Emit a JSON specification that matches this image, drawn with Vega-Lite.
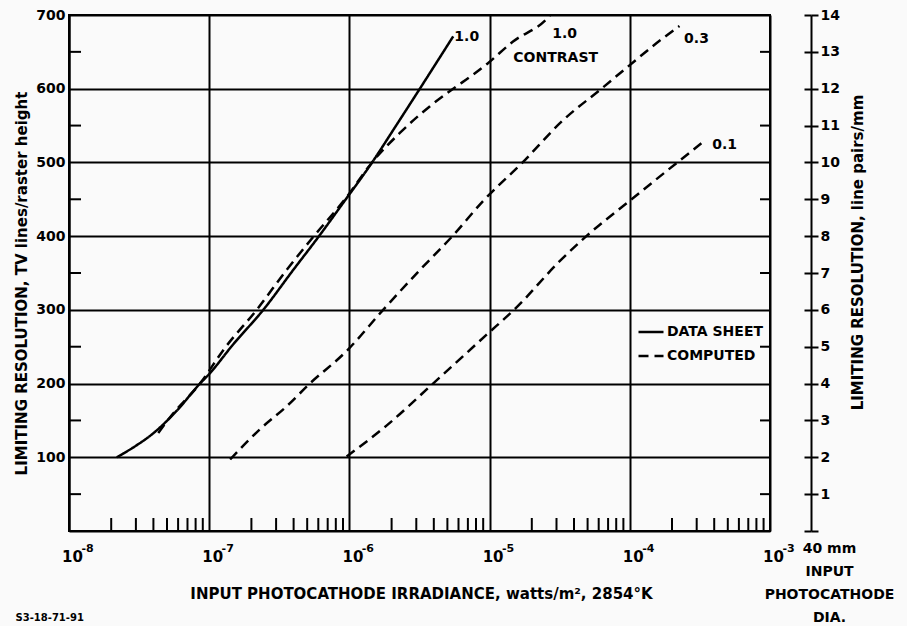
{
  "$schema": "https://vega.github.io/schema/vega-lite/v6.json",
  "width": 701,
  "height": 516,
  "autosize": {"type": "none"},
  "padding": {"left": 69, "top": 15, "right": 137, "bottom": 95},
  "background": "#fafafa",
  "config": {
    "font": "DejaVu Sans",
    "view": {"stroke": "black", "strokeWidth": 2},
    "axis": {
      "domainColor": "black", "domainWidth": 2,
      "gridColor": "black", "gridWidth": 2, "gridOpacity": 1,
      "tickColor": "black", "tickWidth": 2,
      "labelColor": "black", "titleColor": "black",
      "labelFont": "DejaVu Sans", "titleFont": "DejaVu Sans",
      "labelFontWeight": "bold", "titleFontWeight": "bold",
      "labelFlush": false, "labelOverlap": false
    },
    "legend": {"labelFont": "DejaVu Sans", "labelFontWeight": "bold", "labelColor": "black"}
  },
  "datasets": {
    "curves": [
      {"curve": "ds", "type": "DATA SHEET", "x": 2.19e-8, "y": 100},
      {"curve": "ds", "type": "DATA SHEET", "x": 3.02e-8, "y": 116},
      {"curve": "ds", "type": "DATA SHEET", "x": 3.78e-8, "y": 129},
      {"curve": "ds", "type": "DATA SHEET", "x": 5.86e-8, "y": 163},
      {"curve": "ds", "type": "DATA SHEET", "x": 8.59e-8, "y": 200},
      {"curve": "ds", "type": "DATA SHEET", "x": 1.0e-7, "y": 213},
      {"curve": "ds", "type": "DATA SHEET", "x": 1.48e-7, "y": 253},
      {"curve": "ds", "type": "DATA SHEET", "x": 2.43e-7, "y": 300},
      {"curve": "ds", "type": "DATA SHEET", "x": 3.97e-7, "y": 354},
      {"curve": "ds", "type": "DATA SHEET", "x": 6.07e-7, "y": 400},
      {"curve": "ds", "type": "DATA SHEET", "x": 9.02e-7, "y": 445},
      {"curve": "ds", "type": "DATA SHEET", "x": 1.44e-6, "y": 499},
      {"curve": "ds", "type": "DATA SHEET", "x": 2.17e-6, "y": 551},
      {"curve": "ds", "type": "DATA SHEET", "x": 3.18e-6, "y": 600},
      {"curve": "ds", "type": "DATA SHEET", "x": 4.2e-6, "y": 636},
      {"curve": "ds", "type": "DATA SHEET", "x": 5.5e-6, "y": 671},
      {"curve": "c10", "type": "COMPUTED", "x": 4.33e-8, "y": 133},
      {"curve": "c10", "type": "COMPUTED", "x": 5.4e-8, "y": 157},
      {"curve": "c10", "type": "COMPUTED", "x": 8.59e-8, "y": 200},
      {"curve": "c10", "type": "COMPUTED", "x": 1.29e-7, "y": 248},
      {"curve": "c10", "type": "COMPUTED", "x": 2.18e-7, "y": 300},
      {"curve": "c10", "type": "COMPUTED", "x": 3.56e-7, "y": 354},
      {"curve": "c10", "type": "COMPUTED", "x": 5.58e-7, "y": 400},
      {"curve": "c10", "type": "COMPUTED", "x": 9.29e-7, "y": 450},
      {"curve": "c10", "type": "COMPUTED", "x": 1.48e-6, "y": 502},
      {"curve": "c10", "type": "COMPUTED", "x": 2.29e-6, "y": 540},
      {"curve": "c10", "type": "COMPUTED", "x": 3.74e-6, "y": 576},
      {"curve": "c10", "type": "COMPUTED", "x": 5.5e-6, "y": 600},
      {"curve": "c10", "type": "COMPUTED", "x": 7.62e-6, "y": 619},
      {"curve": "c10", "type": "COMPUTED", "x": 9.64e-6, "y": 634},
      {"curve": "c10", "type": "COMPUTED", "x": 1.47e-5, "y": 664},
      {"curve": "c10", "type": "COMPUTED", "x": 2.54e-5, "y": 694},
      {"curve": "c10", "type": "COMPUTED", "x": 2.69e-5, "y": 699},
      {"curve": "c03", "type": "COMPUTED", "x": 1.41e-7, "y": 97},
      {"curve": "c03", "type": "COMPUTED", "x": 2.3e-7, "y": 138},
      {"curve": "c03", "type": "COMPUTED", "x": 3.56e-7, "y": 169},
      {"curve": "c03", "type": "COMPUTED", "x": 5.22e-7, "y": 200},
      {"curve": "c03", "type": "COMPUTED", "x": 9.53e-7, "y": 244},
      {"curve": "c03", "type": "COMPUTED", "x": 1.74e-6, "y": 300},
      {"curve": "c03", "type": "COMPUTED", "x": 3.18e-6, "y": 354},
      {"curve": "c03", "type": "COMPUTED", "x": 5.43e-6, "y": 400},
      {"curve": "c03", "type": "COMPUTED", "x": 9.12e-6, "y": 449},
      {"curve": "c03", "type": "COMPUTED", "x": 1.7e-5, "y": 499},
      {"curve": "c03", "type": "COMPUTED", "x": 3.33e-5, "y": 557},
      {"curve": "c03", "type": "COMPUTED", "x": 6.27e-5, "y": 600},
      {"curve": "c03", "type": "COMPUTED", "x": 9.7e-5, "y": 630},
      {"curve": "c03", "type": "COMPUTED", "x": 1.63e-4, "y": 665},
      {"curve": "c03", "type": "COMPUTED", "x": 2.26e-4, "y": 685},
      {"curve": "c01", "type": "COMPUTED", "x": 9.55e-7, "y": 101},
      {"curve": "c01", "type": "COMPUTED", "x": 1.84e-6, "y": 143},
      {"curve": "c01", "type": "COMPUTED", "x": 3.95e-6, "y": 200},
      {"curve": "c01", "type": "COMPUTED", "x": 9.48e-6, "y": 266},
      {"curve": "c01", "type": "COMPUTED", "x": 1.55e-5, "y": 303},
      {"curve": "c01", "type": "COMPUTED", "x": 3.16e-5, "y": 366},
      {"curve": "c01", "type": "COMPUTED", "x": 4.9e-5, "y": 400},
      {"curve": "c01", "type": "COMPUTED", "x": 9.7e-5, "y": 446},
      {"curve": "c01", "type": "COMPUTED", "x": 2.15e-4, "y": 499},
      {"curve": "c01", "type": "COMPUTED", "x": 3.24e-4, "y": 526}
    ],
    "notes": [
      {"x": 6.87e-6, "y": 670, "t": "1.0"},
      {"x": 3.43e-5, "y": 674, "t": "1.0"},
      {"x": 2.96e-5, "y": 642, "t": "CONTRAST"},
      {"x": 2.99e-4, "y": 668, "t": "0.3"},
      {"x": 4.74e-4, "y": 524, "t": "0.1"}
    ],
    "xminor": [
      {"px": 0.00000002}, {"px": 0.00000003}, {"px": 0.00000004}, {"px": 0.00000005}, {"px": 0.00000006}, {"px": 0.00000007}, {"px": 0.00000008}, {"px": 0.00000009},
      {"px": 0.0000002}, {"px": 0.0000003}, {"px": 0.0000004}, {"px": 0.0000005}, {"px": 0.0000006}, {"px": 0.0000007}, {"px": 0.0000008}, {"px": 0.0000009},
      {"px": 0.000002}, {"px": 0.000003}, {"px": 0.000004}, {"px": 0.000005}, {"px": 0.000006}, {"px": 0.000007}, {"px": 0.000008}, {"px": 0.000009},
      {"px": 0.00002}, {"px": 0.00003}, {"px": 0.00004}, {"px": 0.00005}, {"px": 0.00006}, {"px": 0.00007}, {"px": 0.00008}, {"px": 0.00009},
      {"px": 0.0002}, {"px": 0.0003}, {"px": 0.0004}, {"px": 0.0005}, {"px": 0.0006}, {"px": 0.0007}, {"px": 0.0008}, {"px": 0.0009}
    ],
    "yminor": [
      {"v": 50}, {"v": 150}, {"v": 250}, {"v": 350}, {"v": 450}, {"v": 550}, {"v": 650}
    ]
  },
  "layer": [
    {
      "data": {"name": "curves"},
      "mark": {"type": "line", "strokeWidth": 2.5, "interpolate": "monotone", "color": "black"},
      "encoding": {
        "x": {
          "field": "x", "type": "quantitative",
          "scale": {"type": "log", "domain": [1e-8, 1e-3], "nice": false},
          "axis": {
            "orient": "bottom", "values": [1e-8, 1e-7, 1e-6, 1e-5, 1e-4, 1e-3],
            "labelExpr": "'10'", "labelFontSize": 15, "labelPadding": 18, "labelOffset": 3,
            "ticks": false, "tickSize": 0, "grid": true, "domain": true,
            "title": "INPUT PHOTOCATHODE IRRADIANCE, watts/m², 2854°K",
            "titleFontSize": 15, "titleX": 352, "titleY": 67, "titleBaseline": "alphabetic", "titleAlign": "center"
          }
        },
        "y": {
          "field": "y", "type": "quantitative",
          "scale": {"domain": [0, 700], "nice": false, "zero": false},
          "axis": {
            "orient": "left", "values": [100, 200, 300, 400, 500, 600, 700],
            "labelFontSize": 14, "labelPadding": 4, "ticks": false, "tickSize": 0,
            "grid": true, "domain": true,
            "title": "LIMITING RESOLUTION, TV lines/raster height",
            "titleFontSize": 15, "titleAngle": 270, "titleX": -48, "titleY": 268,
            "titleAlign": "center", "titleBaseline": "middle"
          }
        },
        "detail": {"field": "curve"},
        "strokeDash": {
          "field": "type", "type": "nominal",
          "scale": {"domain": ["DATA SHEET", "COMPUTED"], "range": [[1, 0], [10, 6]]},
          "legend": {
            "title": null, "orient": "none", "legendX": 568, "legendY": 303,
            "symbolType": "stroke", "symbolSize": 625, "symbolStrokeWidth": 2.5,
            "symbolStrokeColor": "black", "labelFontSize": 14, "labelOffset": 2,
            "rowPadding": 3
          }
        }
      }
    },
    {
      "data": {"name": "notes"},
      "mark": {"type": "text", "font": "DejaVu Sans", "fontWeight": "bold", "fontSize": 14, "align": "center", "baseline": "middle", "color": "black"},
      "encoding": {
        "x": {"field": "x", "type": "quantitative", "scale": {"type": "log", "domain": [1e-8, 1e-3], "nice": false}, "axis": null},
        "y": {"field": "y", "type": "quantitative", "scale": {"domain": [0, 700], "nice": false, "zero": false}, "axis": null},
        "text": {"field": "t"}
      }
    },
    {
      "data": {"name": "xminor"},
      "transform": [{"filter": "datum.px < 1e-6"}],
      "mark": {"type": "rule", "strokeWidth": 2, "color": "black"},
      "encoding": {
        "x": {"field": "px", "type": "quantitative", "scale": {"type": "log", "domain": [1e-8, 1e-3], "nice": false}, "axis": null},
        "y": {"datum": 0, "type": "quantitative", "scale": {"domain": [0, 700], "nice": false, "zero": false}, "axis": null},
        "y2": {"datum": 17.6}
      }
    },
    {
      "data": {"name": "xminor"},
      "transform": [{"filter": "datum.px > 1e-6"}],
      "mark": {"type": "tick", "orient": "vertical", "size": 26, "thickness": 2, "color": "black", "opacity": 1, "clip": true},
      "encoding": {
        "x": {"field": "px", "type": "quantitative", "scale": {"type": "log", "domain": [1e-8, 1e-3], "nice": false}, "axis": null},
        "y": {"datum": 0, "type": "quantitative", "scale": {"domain": [0, 700], "nice": false, "zero": false}, "axis": null}
      }
    },
    {
      "data": {"name": "yminor"},
      "mark": {"type": "tick", "orient": "horizontal", "size": 24, "thickness": 2, "color": "black", "opacity": 1, "clip": true},
      "encoding": {
        "x": {"datum": 1e-8, "type": "quantitative", "scale": {"type": "log", "domain": [1e-8, 1e-3], "nice": false}, "axis": null},
        "y": {"field": "v", "type": "quantitative", "scale": {"domain": [0, 700], "nice": false, "zero": false}, "axis": null}
      }
    },
    {
      "data": {"name": "yminor"},
      "mark": {"type": "tick", "orient": "horizontal", "size": 20, "thickness": 2, "color": "black", "opacity": 1, "clip": true},
      "encoding": {
        "x": {"datum": 1e-3, "type": "quantitative", "scale": {"type": "log", "domain": [1e-8, 1e-3], "nice": false}, "axis": null},
        "y": {"field": "v", "type": "quantitative", "scale": {"domain": [0, 700], "nice": false, "zero": false}, "axis": null}
      }
    },
    {
      "mark": {"type": "point", "opacity": 0},
      "encoding": {
        "x": {
          "datum": 1e-6, "type": "quantitative",
          "scale": {"type": "log", "domain": [1e-8, 1e-3], "nice": false},
          "axis": {
            "orient": "bottom", "values": [1e-8, 1e-7, 1e-6, 1e-5, 1e-4, 1e-3],
            "labelExpr": "'-' + (-round(log(datum.value) / LN10))",
            "labelFontSize": 11, "labelPadding": 11, "labelOffset": 18,
            "ticks": false, "tickSize": 0, "grid": false, "domain": false,
            "title": "S3-18-71-91", "titleFontSize": 10, "titleX": -54, "titleY": 86,
            "titleAlign": "left", "titleBaseline": "middle"
          }
        },
        "y": {
          "datum": 7, "type": "quantitative",
          "scale": {"domain": [0, 14], "nice": false, "zero": false},
          "axis": {
            "orient": "right", "offset": 41,
            "values": [0, 1, 2, 3, 4, 5, 6, 7, 8, 9, 10, 11, 12, 13, 14],
            "tickSize": 7, "domain": true, "grid": false,
            "labelFontSize": 14, "labelLineHeight": 23,
            "labelExpr": "datum.value == 0 ? ['40 mm', 'INPUT', 'PHOTOCATHODE', 'DIA.'] : datum.label",
            "labelAlign": {"condition": {"test": "datum.value == 0", "value": "center"}, "value": "left"},
            "labelBaseline": {"condition": {"test": "datum.value == 0", "value": "top"}, "value": "middle"},
            "labelPadding": {"condition": {"test": "datum.value == 0", "value": 11}, "value": 2},
            "labelOffset": {"condition": {"test": "datum.value == 0", "value": 10}, "value": 0},
            "title": "LIMITING RESOLUTION, line pairs/mm",
            "titleFontSize": 15, "titleAngle": 270, "titleX": 46, "titleY": 237,
            "titleAlign": "center", "titleBaseline": "middle"
          }
        }
      }
    },
    {
      "mark": {"type": "point", "opacity": 0},
      "encoding": {
        "x": {
          "datum": 1e-6, "type": "quantitative",
          "scale": {"type": "log", "domain": [1e-8, 1e-3], "nice": false},
          "axis": null
        },
        "y": {
          "datum": 7, "type": "quantitative",
          "scale": {"domain": [0, 14], "nice": false, "zero": false},
          "axis": {
            "orient": "right", "offset": 34,
            "values": [0, 1, 2, 3, 4, 5, 6, 7, 8, 9, 10, 11, 12, 13, 14],
            "tickSize": 7, "labels": false, "domain": false, "grid": false, "title": null
          }
        }
      }
    }
  ],
  "resolve": {
    "scale": {"x": "independent", "y": "independent"},
    "axis": {"x": "independent", "y": "independent"}
  }
}
